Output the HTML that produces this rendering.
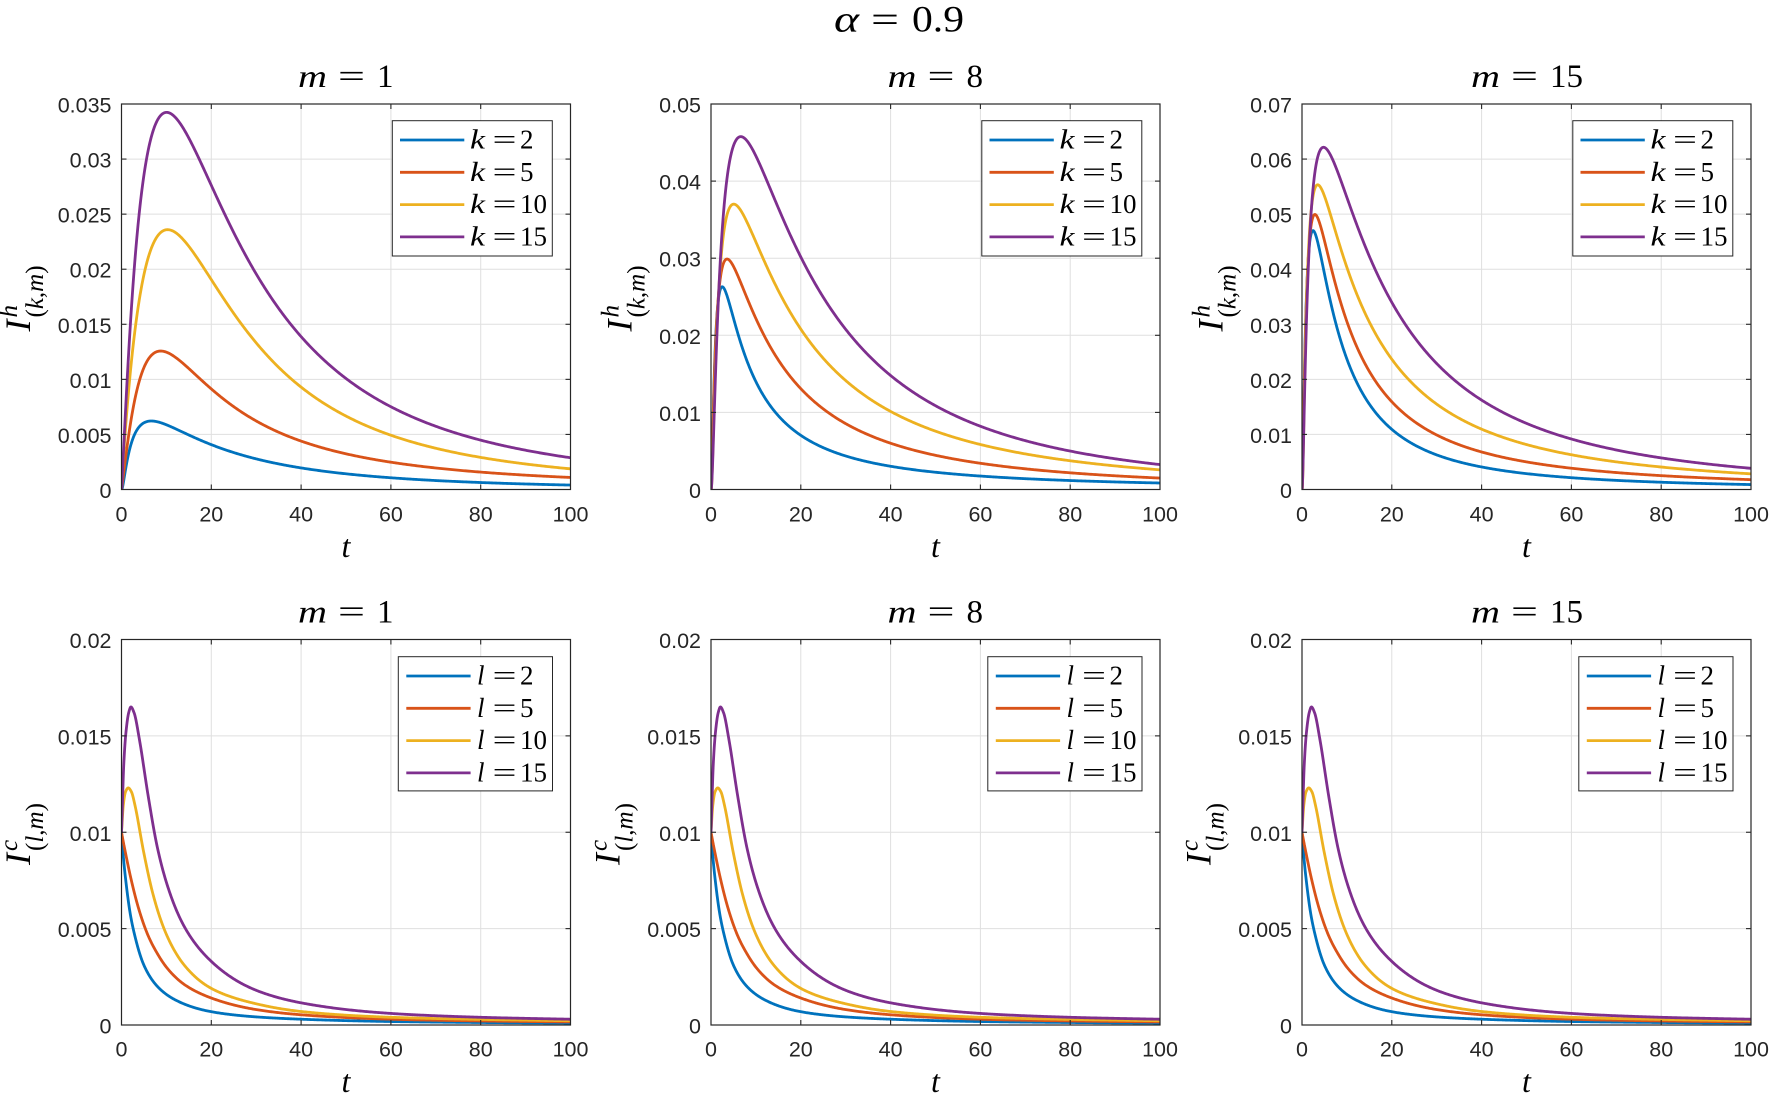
<!DOCTYPE html>
<html><head><meta charset="utf-8">
<style>
html,body{margin:0;padding:0;background:#fff;}
svg{display:block;}
.tk{font-family:"Liberation Sans",Arial,sans-serif;font-size:21.5px;fill:#262626;}
.tkl{text-anchor:end;}
.tkb{text-anchor:middle;}
.mt{font-family:"Liberation Serif","DejaVu Serif",serif;fill:#000;}
.lg{font-family:"Liberation Serif","DejaVu Serif",serif;font-size:27px;fill:#000;}
.it{font-style:italic;}
</style></head><body>
<svg id="s" width="1770" height="1098" viewBox="0 0 1770 1098" xmlns="http://www.w3.org/2000/svg">
<rect x="0" y="0" width="1770" height="1098" fill="#fff"/>
<defs id="defs"></defs>
<g id="grid"></g>
<g id="curves"></g>
<g id="axes"></g>

<!-- main title -->
<g class="mt">
<text x="834" y="31.5" font-size="37" class="it" textLength="25" lengthAdjust="spacingAndGlyphs">α</text>
<text x="871" y="31.5" font-size="37" textLength="28" lengthAdjust="spacingAndGlyphs">=</text>
<text x="912" y="31.5" font-size="37" textLength="52" lengthAdjust="spacingAndGlyphs">0.9</text>
</g>

<!-- subplot titles -->
<g class="mt" font-size="33">
<text x="298" y="87" class="it" font-size="32" textLength="29" lengthAdjust="spacingAndGlyphs">m</text>
<text x="338" y="87" textLength="27" lengthAdjust="spacingAndGlyphs">=</text>
<text x="377" y="87">1</text>
<text x="887.5" y="87" class="it" font-size="32" textLength="29" lengthAdjust="spacingAndGlyphs">m</text>
<text x="927.5" y="87" textLength="27" lengthAdjust="spacingAndGlyphs">=</text>
<text x="966.5" y="87">8</text>
<text x="1471" y="87" class="it" font-size="32" textLength="29" lengthAdjust="spacingAndGlyphs">m</text>
<text x="1511" y="87" textLength="27" lengthAdjust="spacingAndGlyphs">=</text>
<text x="1550" y="87">15</text>
<text x="298" y="622.5" class="it" font-size="32" textLength="29" lengthAdjust="spacingAndGlyphs">m</text>
<text x="338" y="622.5" textLength="27" lengthAdjust="spacingAndGlyphs">=</text>
<text x="377" y="622.5">1</text>
<text x="887.5" y="622.5" class="it" font-size="32" textLength="29" lengthAdjust="spacingAndGlyphs">m</text>
<text x="927.5" y="622.5" textLength="27" lengthAdjust="spacingAndGlyphs">=</text>
<text x="966.5" y="622.5">8</text>
<text x="1471" y="622.5" class="it" font-size="32" textLength="29" lengthAdjust="spacingAndGlyphs">m</text>
<text x="1511" y="622.5" textLength="27" lengthAdjust="spacingAndGlyphs">=</text>
<text x="1550" y="622.5">15</text>
</g>

<!-- x labels -->
<g class="mt it" font-size="32" text-anchor="middle">
<text x="346" y="557">t</text>
<text x="935.5" y="557">t</text>
<text x="1526.5" y="557">t</text>
<text x="346" y="1092">t</text>
<text x="935.5" y="1092">t</text>
<text x="1526.5" y="1092">t</text>
</g>

<!-- y labels -->
<g class="mt">
<g transform="translate(30,298.5) rotate(-90)">
<text x="-33" y="0" font-size="36" class="it">I</text>
<text x="-19" y="-13" font-size="25" class="it">h</text>
<text x="-19" y="13" font-size="25">(<tspan class="it">k</tspan>,<tspan class="it">m</tspan>)</text>
</g>
<g transform="translate(631.5,298.5) rotate(-90)">
<text x="-33" y="0" font-size="36" class="it">I</text>
<text x="-19" y="-13" font-size="25" class="it">h</text>
<text x="-19" y="13" font-size="25">(<tspan class="it">k</tspan>,<tspan class="it">m</tspan>)</text>
</g>
<g transform="translate(1222.5,298.5) rotate(-90)">
<text x="-33" y="0" font-size="36" class="it">I</text>
<text x="-19" y="-13" font-size="25" class="it">h</text>
<text x="-19" y="13" font-size="25">(<tspan class="it">k</tspan>,<tspan class="it">m</tspan>)</text>
</g>
<g transform="translate(30,834) rotate(-90)">
<text x="-31" y="0" font-size="36" class="it">I</text>
<text x="-17" y="-13" font-size="25" class="it">c</text>
<text x="-17" y="13" font-size="25">(<tspan class="it">l</tspan>,<tspan class="it">m</tspan>)</text>
</g>
<g transform="translate(619.5,834) rotate(-90)">
<text x="-31" y="0" font-size="36" class="it">I</text>
<text x="-17" y="-13" font-size="25" class="it">c</text>
<text x="-17" y="13" font-size="25">(<tspan class="it">l</tspan>,<tspan class="it">m</tspan>)</text>
</g>
<g transform="translate(1210.5,834) rotate(-90)">
<text x="-31" y="0" font-size="36" class="it">I</text>
<text x="-17" y="-13" font-size="25" class="it">c</text>
<text x="-17" y="13" font-size="25">(<tspan class="it">l</tspan>,<tspan class="it">m</tspan>)</text>
</g>
</g>

<!-- y tick labels -->
<g class="tk tkl">
<text x="111.5" y="498">0</text><text x="111.5" y="442.9">0.005</text><text x="111.5" y="387.9">0.01</text><text x="111.5" y="332.8">0.015</text><text x="111.5" y="277.7">0.02</text><text x="111.5" y="222.6">0.025</text><text x="111.5" y="167.6">0.03</text><text x="111.5" y="112.5">0.035</text>
<text x="701" y="498">0</text><text x="701" y="420.9">0.01</text><text x="701" y="343.8">0.02</text><text x="701" y="266.7">0.03</text><text x="701" y="189.6">0.04</text><text x="701" y="112.5">0.05</text>
<text x="1292" y="498">0</text><text x="1292" y="442.9">0.01</text><text x="1292" y="387.9">0.02</text><text x="1292" y="332.8">0.03</text><text x="1292" y="277.7">0.04</text><text x="1292" y="222.6">0.05</text><text x="1292" y="167.6">0.06</text><text x="1292" y="112.5">0.07</text>
<text x="111.5" y="1033.5">0</text><text x="111.5" y="937.1">0.005</text><text x="111.5" y="840.8">0.01</text><text x="111.5" y="744.4">0.015</text><text x="111.5" y="648">0.02</text>
<text x="701" y="1033.5">0</text><text x="701" y="937.1">0.005</text><text x="701" y="840.8">0.01</text><text x="701" y="744.4">0.015</text><text x="701" y="648">0.02</text>
<text x="1292" y="1033.5">0</text><text x="1292" y="937.1">0.005</text><text x="1292" y="840.8">0.01</text><text x="1292" y="744.4">0.015</text><text x="1292" y="648">0.02</text>
</g>

<!-- x tick labels -->
<g class="tk tkb">
<text x="121.5" y="521.5">0</text><text x="211.3" y="521.5">20</text><text x="301.1" y="521.5">40</text><text x="390.9" y="521.5">60</text><text x="480.7" y="521.5">80</text><text x="570.5" y="521.5">100</text>
<text x="711" y="521.5">0</text><text x="800.8" y="521.5">20</text><text x="890.6" y="521.5">40</text><text x="980.4" y="521.5">60</text><text x="1070.2" y="521.5">80</text><text x="1160" y="521.5">100</text>
<text x="1302" y="521.5">0</text><text x="1391.8" y="521.5">20</text><text x="1481.6" y="521.5">40</text><text x="1571.4" y="521.5">60</text><text x="1661.2" y="521.5">80</text><text x="1751" y="521.5">100</text>
<text x="121.5" y="1056.5">0</text><text x="211.3" y="1056.5">20</text><text x="301.1" y="1056.5">40</text><text x="390.9" y="1056.5">60</text><text x="480.7" y="1056.5">80</text><text x="570.5" y="1056.5">100</text>
<text x="711" y="1056.5">0</text><text x="800.8" y="1056.5">20</text><text x="890.6" y="1056.5">40</text><text x="980.4" y="1056.5">60</text><text x="1070.2" y="1056.5">80</text><text x="1160" y="1056.5">100</text>
<text x="1302" y="1056.5">0</text><text x="1391.8" y="1056.5">20</text><text x="1481.6" y="1056.5">40</text><text x="1571.4" y="1056.5">60</text><text x="1661.2" y="1056.5">80</text><text x="1751" y="1056.5">100</text>
</g>

<!-- legends top -->
<g>
<rect x="392.3" y="120.7" width="160" height="135.3" fill="#fff" stroke="#262626" stroke-width="1"/>
<g stroke-width="2.8">
<line x1="400" y1="140" x2="464.3" y2="140" stroke="#0072BD"/>
<line x1="400" y1="172.3" x2="464.3" y2="172.3" stroke="#D95319"/>
<line x1="400" y1="204.6" x2="464.3" y2="204.6" stroke="#EDB120"/>
<line x1="400" y1="236.9" x2="464.3" y2="236.9" stroke="#7E2F8E"/>
</g>
<g class="lg">
<text x="470" y="148.5" class="it" textLength="15" lengthAdjust="spacingAndGlyphs">k</text><text x="492.5" y="148.5" textLength="24" lengthAdjust="spacingAndGlyphs">=</text><text x="520" y="148.5">2</text>
<text x="470" y="180.8" class="it" textLength="15" lengthAdjust="spacingAndGlyphs">k</text><text x="492.5" y="180.8" textLength="24" lengthAdjust="spacingAndGlyphs">=</text><text x="520" y="180.8">5</text>
<text x="470" y="213.1" class="it" textLength="15" lengthAdjust="spacingAndGlyphs">k</text><text x="492.5" y="213.1" textLength="24" lengthAdjust="spacingAndGlyphs">=</text><text x="520" y="213.1">10</text>
<text x="470" y="245.4" class="it" textLength="15" lengthAdjust="spacingAndGlyphs">k</text><text x="492.5" y="245.4" textLength="24" lengthAdjust="spacingAndGlyphs">=</text><text x="520" y="245.4">15</text>
</g>
</g>
<g>
<rect x="981.8" y="120.7" width="160" height="135.3" fill="#fff" stroke="#262626" stroke-width="1"/>
<g stroke-width="2.8">
<line x1="989.5" y1="140" x2="1053.8" y2="140" stroke="#0072BD"/>
<line x1="989.5" y1="172.3" x2="1053.8" y2="172.3" stroke="#D95319"/>
<line x1="989.5" y1="204.6" x2="1053.8" y2="204.6" stroke="#EDB120"/>
<line x1="989.5" y1="236.9" x2="1053.8" y2="236.9" stroke="#7E2F8E"/>
</g>
<g class="lg">
<text x="1059.5" y="148.5" class="it" textLength="15" lengthAdjust="spacingAndGlyphs">k</text><text x="1082" y="148.5" textLength="24" lengthAdjust="spacingAndGlyphs">=</text><text x="1109.5" y="148.5">2</text>
<text x="1059.5" y="180.8" class="it" textLength="15" lengthAdjust="spacingAndGlyphs">k</text><text x="1082" y="180.8" textLength="24" lengthAdjust="spacingAndGlyphs">=</text><text x="1109.5" y="180.8">5</text>
<text x="1059.5" y="213.1" class="it" textLength="15" lengthAdjust="spacingAndGlyphs">k</text><text x="1082" y="213.1" textLength="24" lengthAdjust="spacingAndGlyphs">=</text><text x="1109.5" y="213.1">10</text>
<text x="1059.5" y="245.4" class="it" textLength="15" lengthAdjust="spacingAndGlyphs">k</text><text x="1082" y="245.4" textLength="24" lengthAdjust="spacingAndGlyphs">=</text><text x="1109.5" y="245.4">15</text>
</g>
</g>
<g>
<rect x="1572.8" y="120.7" width="160" height="135.3" fill="#fff" stroke="#262626" stroke-width="1"/>
<g stroke-width="2.8">
<line x1="1580.5" y1="140" x2="1644.8" y2="140" stroke="#0072BD"/>
<line x1="1580.5" y1="172.3" x2="1644.8" y2="172.3" stroke="#D95319"/>
<line x1="1580.5" y1="204.6" x2="1644.8" y2="204.6" stroke="#EDB120"/>
<line x1="1580.5" y1="236.9" x2="1644.8" y2="236.9" stroke="#7E2F8E"/>
</g>
<g class="lg">
<text x="1650.5" y="148.5" class="it" textLength="15" lengthAdjust="spacingAndGlyphs">k</text><text x="1673" y="148.5" textLength="24" lengthAdjust="spacingAndGlyphs">=</text><text x="1700.5" y="148.5">2</text>
<text x="1650.5" y="180.8" class="it" textLength="15" lengthAdjust="spacingAndGlyphs">k</text><text x="1673" y="180.8" textLength="24" lengthAdjust="spacingAndGlyphs">=</text><text x="1700.5" y="180.8">5</text>
<text x="1650.5" y="213.1" class="it" textLength="15" lengthAdjust="spacingAndGlyphs">k</text><text x="1673" y="213.1" textLength="24" lengthAdjust="spacingAndGlyphs">=</text><text x="1700.5" y="213.1">10</text>
<text x="1650.5" y="245.4" class="it" textLength="15" lengthAdjust="spacingAndGlyphs">k</text><text x="1673" y="245.4" textLength="24" lengthAdjust="spacingAndGlyphs">=</text><text x="1700.5" y="245.4">15</text>
</g>
</g>

<!-- legends bottom -->
<g>
<rect x="398.3" y="656.7" width="154.2" height="134.2" fill="#fff" stroke="#262626" stroke-width="1"/>
<g stroke-width="2.8">
<line x1="406.3" y1="676" x2="470.6" y2="676" stroke="#0072BD"/>
<line x1="406.3" y1="708.3" x2="470.6" y2="708.3" stroke="#D95319"/>
<line x1="406.3" y1="740.6" x2="470.6" y2="740.6" stroke="#EDB120"/>
<line x1="406.3" y1="772.9" x2="470.6" y2="772.9" stroke="#7E2F8E"/>
</g>
<g class="lg">
<text x="477" y="684.5" class="it">l</text><text x="492.5" y="684.5" textLength="24" lengthAdjust="spacingAndGlyphs">=</text><text x="520" y="684.5">2</text>
<text x="477" y="716.8" class="it">l</text><text x="492.5" y="716.8" textLength="24" lengthAdjust="spacingAndGlyphs">=</text><text x="520" y="716.8">5</text>
<text x="477" y="749.1" class="it">l</text><text x="492.5" y="749.1" textLength="24" lengthAdjust="spacingAndGlyphs">=</text><text x="520" y="749.1">10</text>
<text x="477" y="781.4" class="it">l</text><text x="492.5" y="781.4" textLength="24" lengthAdjust="spacingAndGlyphs">=</text><text x="520" y="781.4">15</text>
</g>
</g>
<g>
<rect x="987.8" y="656.7" width="154.2" height="134.2" fill="#fff" stroke="#262626" stroke-width="1"/>
<g stroke-width="2.8">
<line x1="995.8" y1="676" x2="1060.1" y2="676" stroke="#0072BD"/>
<line x1="995.8" y1="708.3" x2="1060.1" y2="708.3" stroke="#D95319"/>
<line x1="995.8" y1="740.6" x2="1060.1" y2="740.6" stroke="#EDB120"/>
<line x1="995.8" y1="772.9" x2="1060.1" y2="772.9" stroke="#7E2F8E"/>
</g>
<g class="lg">
<text x="1066.5" y="684.5" class="it">l</text><text x="1082" y="684.5" textLength="24" lengthAdjust="spacingAndGlyphs">=</text><text x="1109.5" y="684.5">2</text>
<text x="1066.5" y="716.8" class="it">l</text><text x="1082" y="716.8" textLength="24" lengthAdjust="spacingAndGlyphs">=</text><text x="1109.5" y="716.8">5</text>
<text x="1066.5" y="749.1" class="it">l</text><text x="1082" y="749.1" textLength="24" lengthAdjust="spacingAndGlyphs">=</text><text x="1109.5" y="749.1">10</text>
<text x="1066.5" y="781.4" class="it">l</text><text x="1082" y="781.4" textLength="24" lengthAdjust="spacingAndGlyphs">=</text><text x="1109.5" y="781.4">15</text>
</g>
</g>
<g>
<rect x="1578.8" y="656.7" width="154.2" height="134.2" fill="#fff" stroke="#262626" stroke-width="1"/>
<g stroke-width="2.8">
<line x1="1586.8" y1="676" x2="1651.1" y2="676" stroke="#0072BD"/>
<line x1="1586.8" y1="708.3" x2="1651.1" y2="708.3" stroke="#D95319"/>
<line x1="1586.8" y1="740.6" x2="1651.1" y2="740.6" stroke="#EDB120"/>
<line x1="1586.8" y1="772.9" x2="1651.1" y2="772.9" stroke="#7E2F8E"/>
</g>
<g class="lg">
<text x="1657.5" y="684.5" class="it">l</text><text x="1673" y="684.5" textLength="24" lengthAdjust="spacingAndGlyphs">=</text><text x="1700.5" y="684.5">2</text>
<text x="1657.5" y="716.8" class="it">l</text><text x="1673" y="716.8" textLength="24" lengthAdjust="spacingAndGlyphs">=</text><text x="1700.5" y="716.8">5</text>
<text x="1657.5" y="749.1" class="it">l</text><text x="1673" y="749.1" textLength="24" lengthAdjust="spacingAndGlyphs">=</text><text x="1700.5" y="749.1">10</text>
<text x="1657.5" y="781.4" class="it">l</text><text x="1673" y="781.4" textLength="24" lengthAdjust="spacingAndGlyphs">=</text><text x="1700.5" y="781.4">15</text>
</g>
</g>
</svg>
<script>
(function(){
var NS="http://www.w3.org/2000/svg";
var defs=document.getElementById('defs'),gGrid=document.getElementById('grid'),gCur=document.getElementById('curves'),gAx=document.getElementById('axes');
function el(tag,a,p){var e=document.createElementNS(NS,tag);for(var k in a)e.setAttribute(k,a[k]);p.appendChild(e);return e;}
var X0=[121.5,711,1302],W=449;
var R=[[104,489.5],[639.5,1025]];
var YM=[[0.035,0.05,0.07],[0.02,0.02,0.02]];
var YS=[[0.005,0.01,0.01],[0.005,0.005,0.005]];
var COL=['#0072BD','#D95319','#EDB120','#7E2F8E'];
function g(s){var p=1,q=2,r=0.45;return Math.pow((p+q)/(q*Math.pow(s,-p*r)+p*Math.pow(s,q*r)),1/r);}
function model(t,pr){var s=t/pr[0];if(s<=0)return 0;var p=pr[2],q=pr[3],r=pr[4];return pr[1]*Math.pow((p+q)/(q*Math.pow(s,-p*r)+p*Math.pow(s,q*r)),1/r);}
function NM(f,x0){
 var n=x0.length,S=[x0.slice()],i,j;
 for(i=0;i<n;i++){var x=x0.slice();x[i]+=0.2;S.push(x);}
 var F=S.map(f);
 for(var it=0;it<4000;it++){
  var idx=F.map(function(v,i){return i;}).sort(function(a,b){return F[a]-F[b];});
  S=idx.map(function(i){return S[i];});F=idx.map(function(i){return F[i];});
  var c=[];for(j=0;j<n;j++){c[j]=0;for(i=0;i<n;i++)c[j]+=S[i][j]/n;}
  var xr=c.map(function(v,j){return v+(v-S[n][j]);});var fr=f(xr);
  if(fr<F[0]){var xe=c.map(function(v,j){return v+2*(v-S[n][j]);});var fe=f(xe);if(fe<fr){S[n]=xe;F[n]=fe;}else{S[n]=xr;F[n]=fr;}}
  else if(fr<F[n-1]){S[n]=xr;F[n]=fr;}
  else{var xc=c.map(function(v,j){return v+0.5*(S[n][j]-v);});var fc=f(xc);
   if(fc<F[n]){S[n]=xc;F[n]=fc;}
   else{for(i=1;i<=n;i++){S[i]=S[i].map(function(v,j){return S[0][j]+0.5*(v-S[0][j]);});F[i]=f(S[i]);}}}
 }
 var b=0;for(i=1;i<=n;i++)if(F[i]<F[b])b=i;return S[b];
}
function fitCurve(T0,P0,pts,ym,H){
 var data=[[T0,P0,5]];
 pts.forEach(function(p){data.push([p[0],p[1],1]);});
 [0.3,0.6].forEach(function(s){data.push([s*T0,P0*g(s),0.4]);});
 function cost(v){
  var pr=v.map(Math.exp);var c=0;
  for(var i=0;i<data.length;i++){var e=(model(data[i][0],pr)-data[i][1])/ym*H;c+=data[i][2]*e*e;}
  var dt=(pr[0]-T0)*4.49;c+=5*dt*dt;
  if(!isFinite(c))return 1e15;return c;
 }
 var best=null,bc=Infinity;
 [[1,2,0.45],[1,1.6,0.3],[1,2.5,0.7]].forEach(function(st){
  var v=NM(cost,[Math.log(T0),Math.log(P0),Math.log(st[0]),Math.log(st[1]),Math.log(st[2])]);
  var cc=cost(v);if(cc<bc){bc=cc;best=v;}
 });
 var pr=best.map(Math.exp);
 return function(t){return model(t,pr);};
}
function mono(pts){
 var n=pts.length,xs=pts.map(function(p){return p[0];}),ys=pts.map(function(p){return p[1];});
 var d=[],m=[],i;
 for(i=0;i<n-1;i++)d.push((ys[i+1]-ys[i])/(xs[i+1]-xs[i]));
 m[0]=d[0];m[n-1]=d[n-2];
 for(i=1;i<n-1;i++){
  if(d[i-1]*d[i]<=0)m[i]=0;
  else{var h0=xs[i]-xs[i-1],h1=xs[i+1]-xs[i];var w1=2*h1+h0,w2=h1+2*h0;m[i]=(w1+w2)/(w1/d[i-1]+w2/d[i]);}
 }
 return function(x){
  var i=0;while(i<n-2&&x>xs[i+1])i++;
  var h=xs[i+1]-xs[i],t=(x-xs[i])/h,t2=t*t,t3=t2*t;
  return (2*t3-3*t2+1)*ys[i]+(t3-2*t2+t)*h*m[i]+(-2*t3+3*t2)*ys[i+1]+(t3-t2)*h*m[i+1];
 };
}
function logmono(pts){var f=mono(pts.map(function(p){return [p[0],Math.log(p[1])];}));return function(x){return Math.exp(f(x));};}
var TOP=[
 [ [6.5,0.0062,[[10,0.0059],[15,0.0051],[20,0.0041],[30,0.0028],[40,0.00199],[60,0.00101],[80,0.00059],[100,0.00036]]],
   [8.8,0.01258,[[15,0.0111],[20,0.00883],[30,0.00622],[40,0.0046],[50,0.0033],[60,0.00248],[80,0.0015],[100,0.00098]]],
   [9.8,0.0235,[[15,0.022],[20,0.01975],[30,0.01323],[40,0.009],[50,0.00655],[60,0.00492],[80,0.00313],[100,0.00199]]],
   [9.8,0.0342,[[15,0.0321],[20,0.0274],[30,0.0201],[40,0.01356],[50,0.00997],[60,0.00736],[80,0.0046],[100,0.00306]]] ],
 [ [2.6,0.0264,[[4,0.0234],[6.46,0.02],[8.7,0.0156],[12.4,0.0113],[20,0.00694],[27.3,0.005],[40,0.00313],[60,0.00174],[80,0.00109],[100,0.00078]]],
   [3.3,0.02995,[[5.6,0.0276],[8.7,0.0234],[12.4,0.02],[20,0.01345],[27.3,0.00955],[40,0.00586],[60,0.00313],[80,0.00195],[100,0.00139]]],
   [4.8,0.0371,[[8,0.0338],[12.4,0.0291],[20,0.0213],[27.3,0.0156],[40,0.0102],[60,0.00564],[80,0.00356],[100,0.00239]]],
   [6.3,0.0458,[[9.1,0.0438],[12.4,0.0399],[20,0.0308],[27.3,0.023],[40,0.01476],[49.5,0.0106],[60,0.00803],[80,0.005],[100,0.00356]]] ],
 [ [2.45,0.0471,[[3.8,0.0433],[4.83,0.0401],[8.54,0.0273],[12.25,0.0194],[20,0.0109],[27.1,0.0073],[40,0.00395],[60,0.00213],[80,0.00134],[100,0.00103]]],
   [2.75,0.04995,[[4.5,0.0463],[6.31,0.0413],[8.54,0.034],[12.25,0.0261],[20,0.0158],[27.1,0.0109],[40,0.00699],[60,0.00395],[80,0.00255],[100,0.00182]]],
   [3.3,0.0555,[[5.5,0.05],[8.54,0.045],[12.25,0.0359],[20,0.0237],[27.1,0.017],[40,0.0109],[60,0.0062],[80,0.00407],[100,0.00286]]],
   [4.3,0.0621,[[6.3,0.0597],[8.54,0.0559],[12.25,0.0486],[20,0.0346],[27.1,0.0255],[40,0.0161],[60,0.0088],[80,0.00547],[100,0.00395]]] ]
];
var BOT=[
 [[0,0.01],[0.5,0.0085],[1,0.0074],[2,0.0057],[3,0.0046],[5,0.0031],[8,0.002],[12,0.0013],[20,0.00069],[30,0.00042],[40,0.0003],[60,0.00018],[80,0.00013],[100,0.0001]],
 [[0,0.01],[1,0.0088],[2,0.0077],[4,0.0059],[6,0.0046],[8,0.0037],[10,0.003],[14,0.0021],[20,0.0014],[30,0.0008],[40,0.00053],[60,0.0003],[80,0.00021],[100,0.00016]],
 [[0,0.01],[0.4,0.0114],[0.9,0.0121],[1.5,0.0123],[2.2,0.0121],[3,0.0114],[5,0.0089],[7,0.0068],[10,0.0047],[14,0.0031],[20,0.0019],[30,0.0011],[40,0.0007],[60,0.0004],[80,0.00029],[100,0.00022]],
 [[0,0.01],[0.5,0.0135],[1,0.0152],[1.6,0.0162],[2.1,0.0165],[2.8,0.0162],[4,0.0148],[6,0.0118],[8,0.0092],[10,0.0074],[14,0.0051],[20,0.0033],[30,0.0018],[40,0.00115],[60,0.0006],[80,0.0004],[100,0.0003]]
];
var TS=[];var N=600;for(var i=0;i<=N;i++)TS.push(100*Math.pow(i/N,2));
for(var r=0;r<2;r++)for(var c=0;c<3;c++){
 var x0=X0[c],x1=x0+W,y0=R[r][0],y1=R[r][1],H=y1-y0,ym=YM[r][c],nY=Math.round(ym/YS[r][c]);
 var id='cp'+r+c;
 var cp=el('clipPath',{id:id},defs);el('rect',{x:x0,y:y0-2,width:W,height:H+2},cp);
 for(var t=20;t<100;t+=20){var xx=x0+W*t/100;el('line',{x1:xx,y1:y0,x2:xx,y2:y1,stroke:'#dfdfdf','stroke-width':1},gGrid);}
 for(i=1;i<nY;i++){var yy=y1-H*i/nY;el('line',{x1:x0,y1:yy,x2:x1,y2:yy,stroke:'#dfdfdf','stroke-width':1},gGrid);}
 var gc=el('g',{'clip-path':'url(#'+id+')'},gCur);
 for(var k=0;k<4;k++){
  var f;
  if(r==0){var dd=TOP[c][k];f=fitCurve(dd[0],dd[1],dd[2],ym,H);}
  else f=logmono(BOT[k]);
  var d='';
  for(i=0;i<TS.length;i++){var tt=TS[i];var v=f(tt);if(!isFinite(v))v=0;var px=x0+W*tt/100,py=y1-H*v/ym;d+=(i?'L':'M')+px.toFixed(2)+' '+py.toFixed(2);}
  el('path',{d:d,fill:'none',stroke:COL[k],'stroke-width':2.8,'stroke-linejoin':'round','stroke-linecap':'round'},gc);
 }
 el('rect',{x:x0,y:y0,width:W,height:H,fill:'none',stroke:'#262626','stroke-width':1.2},gAx);
 for(t=20;t<100;t+=20){var xt=x0+W*t/100;
  el('line',{x1:xt,y1:y1,x2:xt,y2:y1-5,stroke:'#262626','stroke-width':1.1},gAx);
  el('line',{x1:xt,y1:y0,x2:xt,y2:y0+5,stroke:'#262626','stroke-width':1.1},gAx);}
 for(i=1;i<nY;i++){var yt=y1-H*i/nY;
  el('line',{x1:x0,y1:yt,x2:x0+5,y2:yt,stroke:'#262626','stroke-width':1.1},gAx);
  el('line',{x1:x1,y1:yt,x2:x1-5,y2:yt,stroke:'#262626','stroke-width':1.1},gAx);}
}
})();
</script>
</body></html>
